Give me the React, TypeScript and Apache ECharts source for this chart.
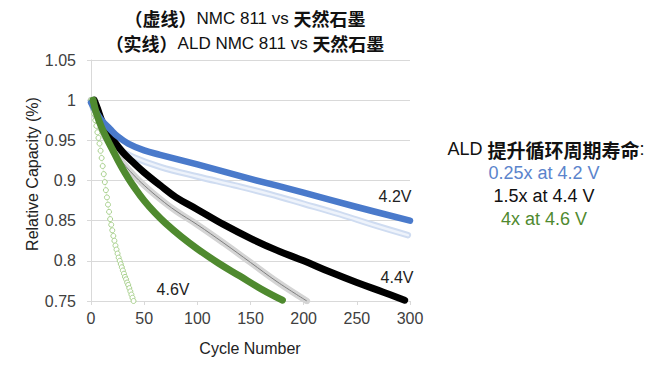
import React, { useEffect, useRef } from "react";
import * as echarts from "echarts";

// ---- Data ----
// ALD NMC 811, 4.2 V (solid blue)
const ald42Cycles = [0, 5, 10, 18, 25, 35, 50, 65, 100, 150, 200, 250, 300];
const ald42Values = [0.997, 0.985, 0.975, 0.964, 0.955, 0.946, 0.9375, 0.932, 0.92, 0.902, 0.885, 0.867, 0.85];

// NMC 811, 4.2 V (light blue, hollow markers)
const nmc42Cycles = [0, 5, 10, 15, 25, 40, 65, 100, 135, 168, 200, 234, 265, 298];
const nmc42Values = [1.0, 0.978, 0.963, 0.953, 0.94, 0.929, 0.917, 0.905, 0.894, 0.883, 0.871, 0.858, 0.845, 0.832];

// ALD NMC 811, 4.4 V (solid black)
const ald44Cycles = [3, 6, 10, 15, 20, 30, 40, 50, 65, 80, 100, 125, 150, 175, 200, 225, 250, 275, 295];
const ald44Values = [1.0, 0.99, 0.975, 0.962, 0.952, 0.935, 0.922, 0.91, 0.894, 0.879, 0.864, 0.845, 0.828, 0.813, 0.8, 0.786, 0.773, 0.761, 0.751];

// NMC 811, 4.4 V (grey, hollow markers)
const nmc44Cycles = [0, 5, 10, 20, 30, 40, 50, 65, 80, 100, 125, 150, 175, 203];
const nmc44Values = [1.0, 0.978, 0.962, 0.94, 0.922, 0.907, 0.894, 0.877, 0.862, 0.845, 0.822, 0.798, 0.774, 0.75];

// ALD NMC 811, 4.6 V (solid green)
const ald46Cycles = [2, 5, 10, 15, 20, 25, 30, 35, 40, 50, 60, 70, 85, 100, 120, 140, 160, 180];
const ald46Values = [1.0, 0.984, 0.966, 0.952, 0.939, 0.926, 0.914, 0.903, 0.893, 0.875, 0.86, 0.847, 0.83, 0.815, 0.797, 0.781, 0.765, 0.751];

// NMC 811, 4.6 V (light green, hollow circles)
const nmc46Cycles = [0, 1, 2, 3, 4, 5, 6, 7, 8, 9, 10, 11, 12, 13, 14, 15, 16, 17, 18, 19, 20, 21, 22, 23, 24, 25, 26, 27, 28, 29, 30, 31, 32, 33, 34, 35, 36, 37, 38, 39, 40];
const nmc46Values = [1.0, 0.997, 0.99, 0.983, 0.975, 0.968, 0.96, 0.953, 0.946, 0.937, 0.928, 0.918, 0.908, 0.898, 0.888, 0.879, 0.87, 0.861, 0.852, 0.845, 0.838, 0.831, 0.825, 0.819, 0.814, 0.809, 0.804, 0.8, 0.796, 0.792, 0.788, 0.784, 0.78, 0.777, 0.773, 0.77, 0.766, 0.762, 0.758, 0.754, 0.75];

// Axes
const xMin = 0;
const xMax = 300;
const xStep = 50;
const yMin = 0.75;
const yMax = 1.05;
const yStep = 0.05;

// Texts
const titleLine1 = "{c|（虚线）}{l|NMC 811 vs }{c|天然石墨}";
const titleLine2 = "{c|（实线）}{l|ALD NMC 811 vs }{c|天然石墨}";
const noteLines = ["ALD ", "提升循环周期寿命", ":"];
const noteItems = ["0.25x at 4.2 V", "1.5x at 4.4 V", "4x at 4.6 V"];
const curveLabels = ["4.2V", "4.4V", "4.6V"];

const zip = (xs: number[], ys: number[]) => xs.map((x, i) => [x, ys[i]]);

const LATIN = "Liberation Sans, Arial, sans-serif";
const CJK = "Noto Sans CJK SC, sans-serif";

export default function App() {
  const ref = useRef<HTMLDivElement>(null);

  useEffect(() => {
    if (!ref.current) return;
    const chart = echarts.init(ref.current, undefined, { renderer: "svg" });

    const base = { type: "line", smooth: 0.4, symbol: "none", showSymbol: false };

    const solid = (name: string, data: number[][], color: string, width: number) => ({
      ...base,
      name,
      data,
      lineStyle: { color, width, cap: "round", join: "round" },
      z: 5,
    });

    const titleRich = {
      c: { fontFamily: CJK, fontSize: 18, fontWeight: "bold", fill: "#111", lineHeight: 20 },
      l: { fontFamily: LATIN, fontSize: 17, fontWeight: "normal", fill: "#111", lineHeight: 20 },
    };

    chart.setOption({
      animation: false,
      backgroundColor: "#ffffff",
      grid: { left: 91, top: 60, right: 240, bottom: 65, containLabel: false },
      xAxis: {
        type: "value",
        min: xMin,
        max: xMax,
        interval: xStep,
        axisLine: { show: true, lineStyle: { color: "#d9d9d9", width: 1 } },
        axisTick: { show: true, length: 4, lineStyle: { color: "#d9d9d9" } },
        splitLine: { show: false },
        axisLabel: { color: "#404040", fontSize: 16, fontFamily: LATIN, margin: 9 },
      },
      yAxis: {
        type: "value",
        min: yMin,
        max: yMax,
        interval: yStep,
        axisLine: { show: true, lineStyle: { color: "#d9d9d9", width: 1 } },
        axisTick: { show: true, length: 4, lineStyle: { color: "#d9d9d9" } },
        splitLine: { show: true, lineStyle: { color: "#d9d9d9", width: 1 } },
        axisLabel: {
          color: "#404040",
          fontSize: 16,
          fontFamily: LATIN,
          margin: 15,
          formatter: (v: number) => String(Math.round(v * 100) / 100),
        },
      },
      series: [
        {
          name: "NMC 811 4.6V",
          type: "line",
          data: zip(nmc46Cycles, nmc46Values),
          symbol: "circle",
          symbolSize: 5,
          showSymbol: true,
          lineStyle: { color: "#d5e8c8", width: 0.6 },
          itemStyle: { color: "#ffffff", borderColor: "#a9d18e", borderWidth: 1 },
          z: 2,
        },
        {
          ...base,
          name: "NMC 811 4.2V band",
          data: zip(nmc42Cycles, nmc42Values),
          lineStyle: { color: "#cfdcf1", width: 6.5, cap: "round" },
          z: 2,
        },
        {
          ...base,
          name: "NMC 811 4.2V",
          data: zip(nmc42Cycles, nmc42Values),
          lineStyle: { color: "#eef3fb", width: 2.5, cap: "round" },
          z: 3,
        },
        {
          ...base,
          name: "NMC 811 4.4V band",
          data: zip(nmc44Cycles, nmc44Values),
          lineStyle: { color: "#d4d4d4", width: 6.5, cap: "round" },
          z: 2,
        },
        {
          ...base,
          name: "NMC 811 4.4V",
          data: zip(nmc44Cycles, nmc44Values),
          lineStyle: { color: "#7f7f7f", width: 1 },
          z: 3,
        },
        solid("ALD NMC 811 4.4V", zip(ald44Cycles, ald44Values), "#000000", 7),
        solid("ALD NMC 811 4.2V", zip(ald42Cycles, ald42Values), "#4a7acb", 6.5),
        solid("ALD NMC 811 4.6V", zip(ald46Cycles, ald46Values), "#4f8a2f", 7),
      ],
      graphic: [
        {
          type: "text",
          x: 245,
          y: 18,
          style: { text: titleLine1, rich: titleRich, align: "center", verticalAlign: "middle" },
        },
        {
          type: "text",
          x: 245,
          y: 43,
          style: { text: titleLine2, rich: titleRich, align: "center", verticalAlign: "middle" },
        },
        {
          type: "text",
          x: 546,
          y: 149,
          style: {
            text: `{l|${noteLines[0]}}{c|${noteLines[1]}}{l|${noteLines[2]}}`,
            rich: {
              c: { fontFamily: CJK, fontSize: 19, fontWeight: "bold", fill: "#111", lineHeight: 21 },
              l: { fontFamily: LATIN, fontSize: 18, fill: "#111", lineHeight: 21 },
            },
            align: "center",
            verticalAlign: "middle",
          },
        },
        {
          type: "text",
          x: 544,
          y: 173,
          style: { text: noteItems[0], font: `18px ${LATIN}`, fill: "#5b84cc", align: "center", verticalAlign: "middle" },
        },
        {
          type: "text",
          x: 544,
          y: 196,
          style: { text: noteItems[1], font: `18px ${LATIN}`, fill: "#111", align: "center", verticalAlign: "middle" },
        },
        {
          type: "text",
          x: 544,
          y: 219,
          style: { text: noteItems[2], font: `18px ${LATIN}`, fill: "#4f8a2f", align: "center", verticalAlign: "middle" },
        },
        {
          type: "text",
          x: 395,
          y: 196,
          style: { text: curveLabels[0], font: `16px ${LATIN}`, fill: "#222", align: "center", verticalAlign: "middle" },
        },
        {
          type: "text",
          x: 397,
          y: 277,
          style: { text: curveLabels[1], font: `16px ${LATIN}`, fill: "#222", align: "center", verticalAlign: "middle" },
        },
        {
          type: "text",
          x: 173,
          y: 289,
          style: { text: curveLabels[2], font: `16px ${LATIN}`, fill: "#222", align: "center", verticalAlign: "middle" },
        },
        {
          type: "text",
          x: 250,
          y: 348,
          style: { text: "Cycle Number", font: `16px ${LATIN}`, fill: "#222", align: "center", verticalAlign: "middle" },
        },
        {
          type: "text",
          x: 32,
          y: 174,
          rotation: Math.PI / 2,
          style: { text: "Relative Capacity (%)", font: `16px ${LATIN}`, fill: "#222", align: "center", verticalAlign: "middle" },
        },
      ],
    });

    return () => chart.dispose();
  }, []);

  return <div ref={ref} style={{ width: 650, height: 366, position: "absolute", left: 0, top: 0 }} />;
}
